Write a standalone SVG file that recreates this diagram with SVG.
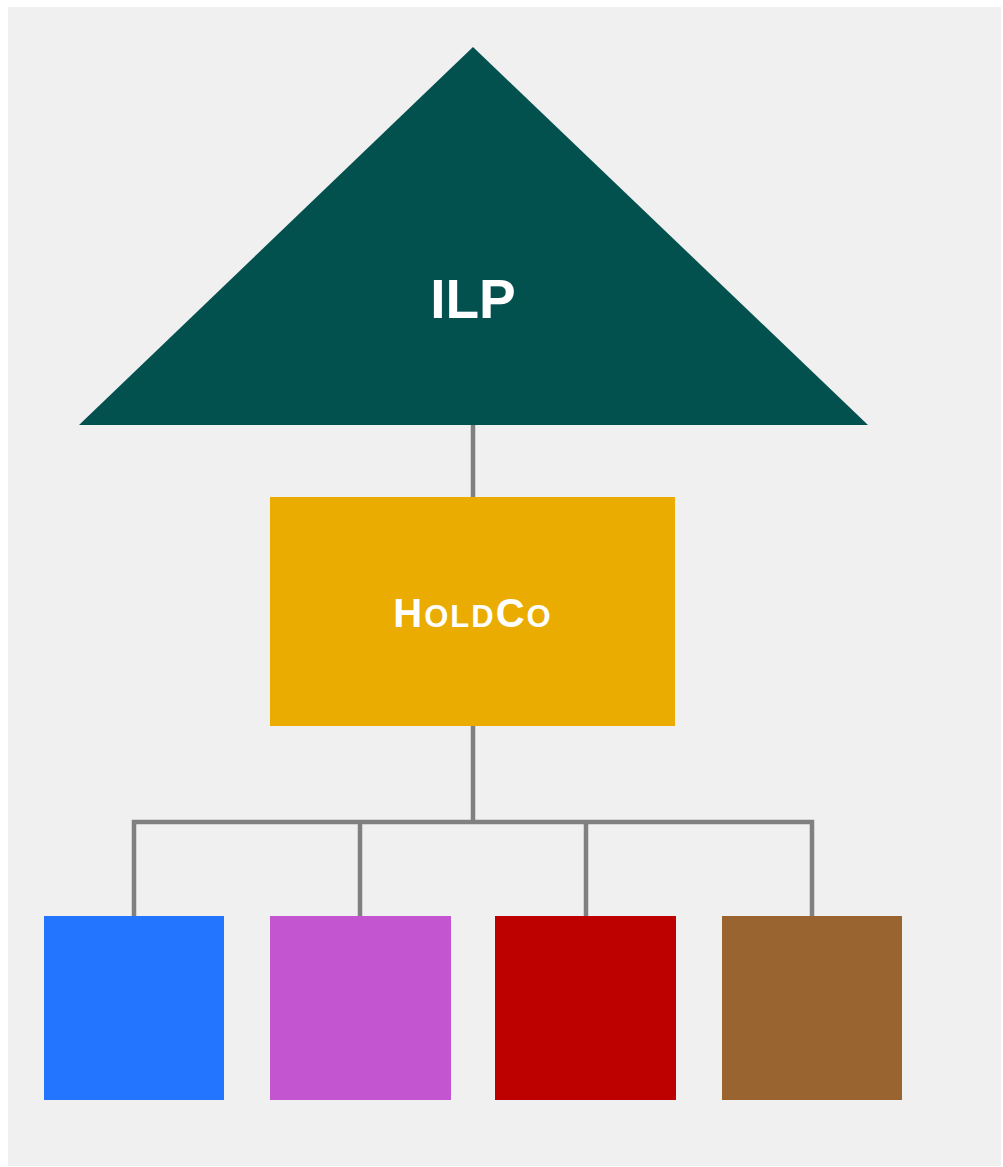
<svg xmlns="http://www.w3.org/2000/svg" width="1003" height="1167" viewBox="0 0 1003 1167">
  <style>
    .label { font-family: "Liberation Sans", Arial, sans-serif; font-weight: bold; fill: #ffffff; text-anchor: middle; }
    .wire { stroke: #808080; stroke-width: 4.5; fill: none; }
  </style>
  <rect x="0" y="0" width="1003" height="1167" fill="#ffffff"/>
  <rect x="8" y="7" width="993" height="1159" fill="#f0f0f0"/>

  <g id="connectors">
    <line class="wire" x1="473" y1="425" x2="473" y2="497"/>
    <line class="wire" x1="473" y1="726" x2="473" y2="822"/>
    <polyline class="wire" points="134,916 134,822 812,822 812,916"/>
    <line class="wire" x1="360" y1="822" x2="360" y2="916"/>
    <line class="wire" x1="586" y1="822" x2="586" y2="916"/>
  </g>

  <g id="ilp">
    <polygon points="473,47 868,425 79,425" fill="#03514f"/>
    <text class="label" x="473" y="318" font-size="55">ILP</text>
  </g>

  <g id="holdco">
    <rect x="270" y="497" width="405" height="229" fill="#eaac00"/>
    <!-- small-caps drawn with explicit sizes so the lowercase letters stay large -->
    <text class="label" x="473" y="627" font-size="40" letter-spacing="2">H<tspan font-size="31">OLD</tspan>C<tspan font-size="31">O</tspan></text>
  </g>

  <g id="sub1"><rect x="44" y="916" width="180" height="184" fill="#2375ff"/></g>
  <g id="sub2"><rect x="270" y="916" width="181" height="184" fill="#c355d0"/></g>
  <g id="sub3"><rect x="495" y="916" width="181" height="184" fill="#bd0000"/></g>
  <g id="sub4"><rect x="722" y="916" width="180" height="184" fill="#996430"/></g>
</svg>
